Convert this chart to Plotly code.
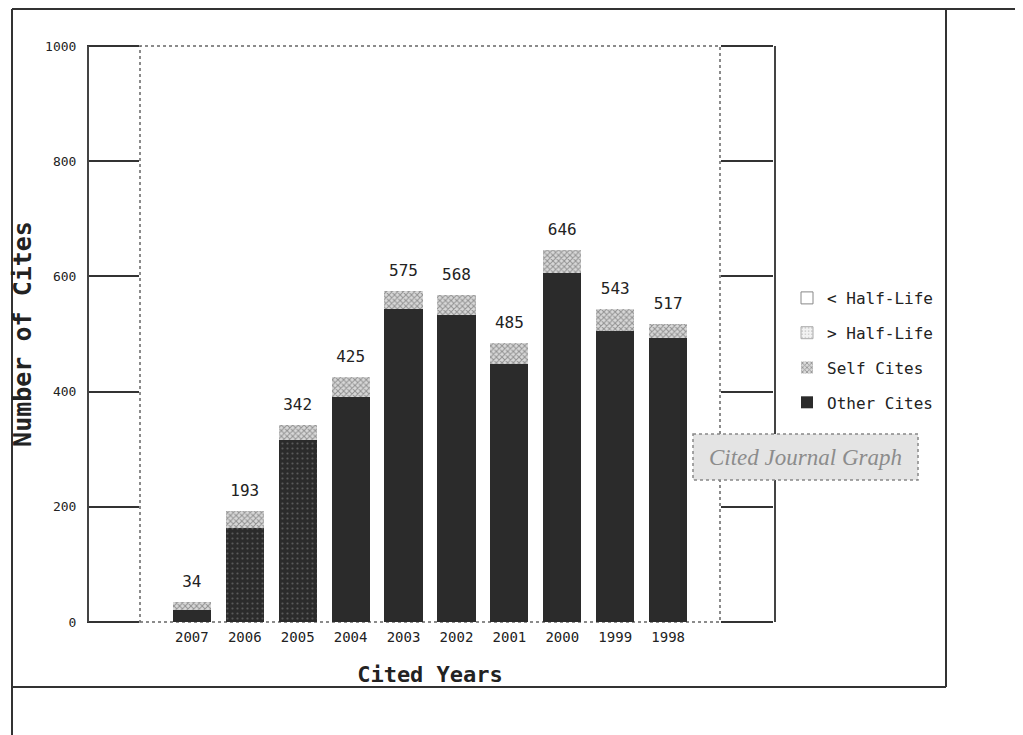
import plotly.graph_objects as go

# ---------------- data ----------------
cited_years = ["2007", "2006", "2005", "2004", "2003", "2002", "2001", "2000", "1999", "1998"]
other_cites = [21, 163, 316, 391, 543, 533, 448, 606, 505, 493]
self_cites = [13, 30, 26, 34, 32, 35, 37, 40, 38, 24]
total_cites = [34, 193, 342, 425, 575, 568, 485, 646, 543, 517]
y_ticks = [0, 200, 400, 600, 800, 1000]

# ---------------- style ----------------
DARK = "#2b2b2b"
MONO = "DejaVu Sans Mono"
PAGE_OFF = 8                      # default body margin of the html page
FW, FH = 1023 - PAGE_OFF, 735 - PAGE_OFF
L, R, T, B = 140, 720, 46, 622    # plot area in page pixels


def px_x(p):
    return (p - L) / (R - L)


def px_y(p):
    return (B - p) / (B - T)


fig = go.Figure()

fig.add_trace(go.Bar(
    x=cited_years, y=other_cites, name="Other Cites",
    legendgroup="d", legendrank=4, width=0.72,
    marker=dict(color=DARK, line=dict(width=0),
                pattern=dict(shape=["", ".", ".", "", "", "", "", "", "", ""],
                             fgcolor="#8a8a8a", bgcolor=DARK, size=5, solidity=0.15)),
    hoverinfo="x+y",
))
fig.add_trace(go.Bar(
    x=cited_years, y=self_cites, name="Self Cites",
    legendgroup="c", legendrank=3, width=0.72,
    marker=dict(color="#c0c0c0", line=dict(width=0),
                pattern=dict(shape="x", fgcolor="#4a4a4a", bgcolor="#d8d8d8", size=4, solidity=0.45)),
    hoverinfo="x+y",
))
fig.add_trace(go.Bar(
    x=[cited_years[0]], y=[None], name="> Half-Life", legendgroup="b", legendrank=2,
    marker=dict(color="#ececec", line=dict(width=1, color="#aaaaaa"),
                pattern=dict(shape=".", fgcolor="#999999", bgcolor="#f2f2f2", size=4, solidity=0.2)),
    hoverinfo="skip",
))
fig.add_trace(go.Bar(
    x=[cited_years[0]], y=[None], name="< Half-Life", legendgroup="a", legendrank=1,
    marker=dict(color="#ffffff", line=dict(width=1, color="#888888")),
    hoverinfo="skip",
))
fig.add_trace(go.Scatter(
    x=cited_years, y=total_cites, mode="markers+text",
    marker=dict(size=16, opacity=0),
    text=[str(v) for v in total_cites], textposition="top center",
    textfont=dict(family=MONO, size=16, color="#222"),
    showlegend=False, hoverinfo="skip", cliponaxis=False,
))

shapes = []
line_dark = dict(color="#333", width=2)
# outer frame
shapes.append(dict(type="line", xref="paper", yref="paper", x0=px_x(12), x1=px_x(1023), y0=px_y(9), y1=px_y(9), line=line_dark))
shapes.append(dict(type="line", xref="paper", yref="paper", x0=px_x(12), x1=px_x(12), y0=px_y(9), y1=px_y(735), line=line_dark))
shapes.append(dict(type="line", xref="paper", yref="paper", x0=px_x(946), x1=px_x(946), y0=px_y(9), y1=px_y(687), line=line_dark))
shapes.append(dict(type="line", xref="paper", yref="paper", x0=px_x(12), x1=px_x(946), y0=px_y(687), y1=px_y(687), line=line_dark))
# side blocks
shapes.append(dict(type="line", xref="paper", yref="paper", x0=px_x(88), x1=px_x(88), y0=0, y1=1, line=dict(color="#444", width=2)))
shapes.append(dict(type="line", xref="paper", yref="paper", x0=px_x(775), x1=px_x(775), y0=0, y1=1, line=dict(color="#444", width=2)))
# dotted plot-area border
shapes.append(dict(type="rect", xref="paper", yref="paper", x0=0, x1=1, y0=0, y1=1,
                   line=dict(color="#666", width=1.5, dash="dot"), layer="below"))
# "Cited Journal Graph" button
shapes.append(dict(type="rect", xref="paper", yref="paper", x0=px_x(693), x1=px_x(918), y0=px_y(434), y1=px_y(480),
                   line=dict(color="#888", width=1.5, dash="dot"), fillcolor="#e4e4e4", layer="above"))

fig.update_layout(
    width=FW, height=FH,
    margin=dict(l=L - PAGE_OFF, r=FW - (R - PAGE_OFF), t=T - PAGE_OFF, b=FH - (B - PAGE_OFF), autoexpand=False),
    paper_bgcolor="white", plot_bgcolor="white",
    barmode="stack", bargap=0.28,
    showlegend=True,
    legend=dict(x=px_x(787), y=px_y(281), xanchor="left", yanchor="top",
                traceorder="grouped", tracegroupgap=11,
                font=dict(family=MONO, size=16, color="#222"),
                bgcolor="rgba(0,0,0,0)", itemwidth=30),
    xaxis=dict(type="category", range=[-0.98, 9.98], showgrid=False, zeroline=False,
               showline=False, ticks="", tickfont=dict(family=MONO, size=14, color="#222"),
               ticklabelstandoff=5,
               title=dict(text="<b>Cited Years</b>", font=dict(family=MONO, size=22, color="#222"), standoff=22)),
    yaxis=dict(range=[0, 1000], tickvals=y_ticks, ticktext=[str(v) for v in y_ticks],
               showgrid=False, zeroline=False, showline=False,
               ticks="outside", ticklen=52, tickwidth=2, tickcolor="#333", mirror="ticks",
               ticklabelstandoff=8,
               tickfont=dict(family=MONO, size=13, color="#222"),
               title=dict(text="<b>Number of Cites</b>", font=dict(family=MONO, size=25, color="#222"), standoff=8)),
    shapes=shapes,
    annotations=[dict(xref="paper", yref="paper", x=px_x(805), y=px_y(457), xanchor="center", yanchor="middle",
                      text="<i>Cited Journal Graph</i>",
                      showarrow=False, font=dict(family="Liberation Serif", size=23, color="#8c8c8c"))],
)

fig.write_html("out.html")
